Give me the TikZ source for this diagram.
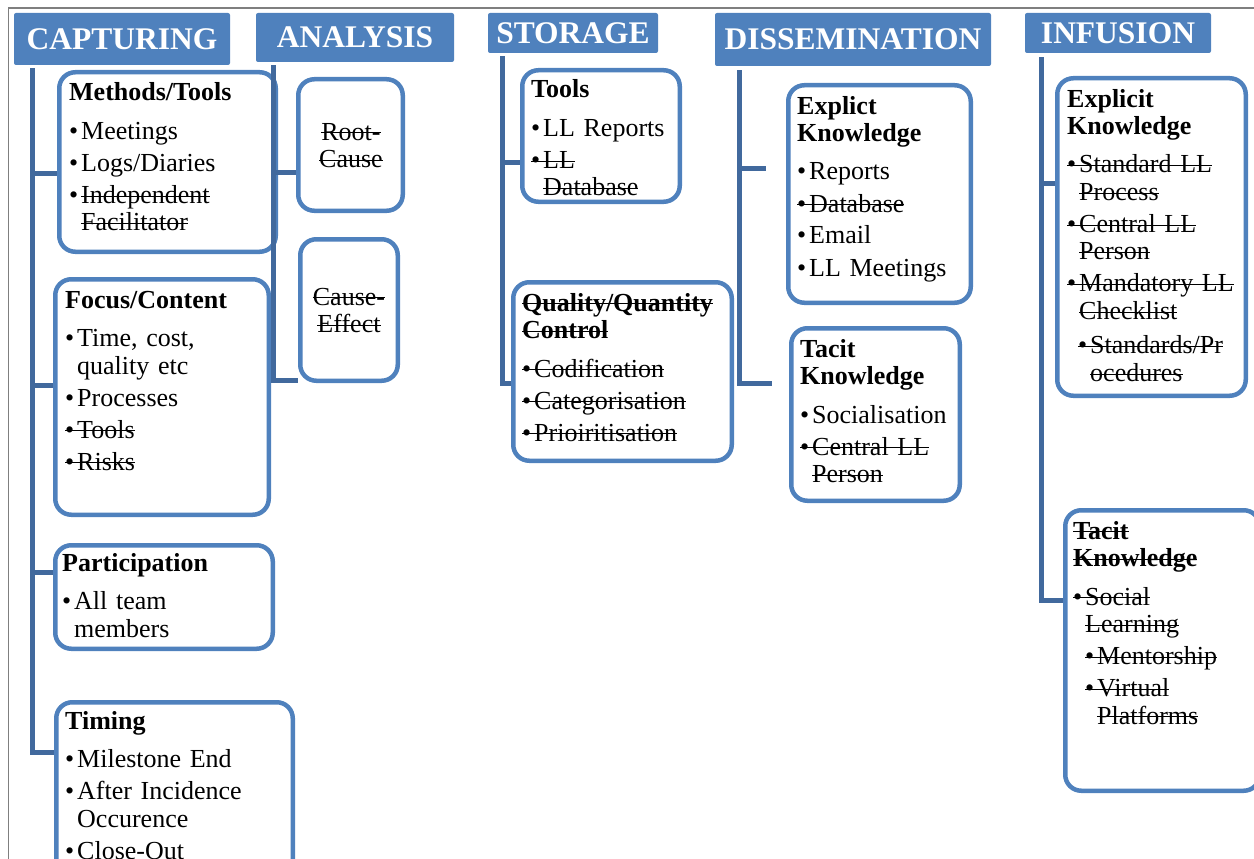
\documentclass[tikz,border=0pt]{standalone}
\usepackage{fontspec}
\setmainfont{Liberation Serif}
\definecolor{hdrblue}{HTML}{4F81BD}
\definecolor{bordblue}{HTML}{4F81BD}
\definecolor{connblue}{HTML}{41699D}
\definecolor{framegray}{HTML}{7F7F7F}
\newcommand\bul{\makebox[12pt][l]{•}}
\newcommand\ind{\hspace*{12pt}}
\newsavebox\stb
\newcommand\st[1]{\leavevmode\sbox\stb{#1}\rlap{\rule[6.6pt]{\wd\stb}{1.3pt}}\usebox\stb}
\newcommand\ls{\lineskiplimit=-100pt\relax}
\newcommand\bx[5]{\node[bx,minimum width={#4-#2-4.5},minimum height={#5-#3-4.5}] (#1) at ({(#2+#4)/2},{(#3+#5)/2}) {};}
\newcommand\hd[6]{\node[hdr,minimum width={#4-#2},minimum height={#5-#3}] (#1) at ({(#2+#4)/2},{(#3+#5)/2}) {#6};}
\begin{document}
\begin{tikzpicture}[x=1pt,y=-1pt,
  hdr/.style={fill=hdrblue, rounded corners=2pt, inner sep=0pt, text=white, font=\fontsize{31.5}{34}\selectfont\bfseries},
  bx/.style={draw=bordblue, line width=4.5pt, fill=white, rounded corners=16pt, inner sep=0pt},
  conn/.style={draw=connblue, line width=5pt},
  txt/.style={anchor=base west, inner sep=0pt, text width=300pt, align=left, font=\fontsize{26}{27.5}\selectfont},
  ctxt/.style={anchor=base, inner sep=0pt, text width=120pt, align=center, font=\fontsize{26}{27.5}\selectfont},
  frameline/.style={draw=framegray, line width=1.5pt}]
\useasboundingbox (0,0) rectangle (1254,859);
\clip (0,0) rectangle (1254,859);
\draw[frameline] (8.5,859) -- (8.5,8) -- (1254,8);

% headers
\hd{hcap}{14}{13}{230}{65}{CAPTURING}
\hd{hana}{256}{13}{454}{62}{ANALYSIS}
\hd{hsto}{488}{13}{658}{53}{STORAGE}
\hd{hdis}{715}{13}{991}{66}{DISSEMINATION}
\hd{hinf}{1025}{13}{1211}{53}{INFUSION}

% boxes
\bx{mt}{57}{70}{278}{254}
\bx{rc}{296}{77}{405}{213}
\bx{ce}{298}{237}{400}{383}
\bx{fc}{53}{277}{271}{517}
\bx{pa}{53}{543}{275}{651}
\bx{tim}{54}{700}{295}{885}
\bx{tl}{520}{68}{682}{204}
\bx{qq}{511}{280}{734}{463}
\bx{ex}{786}{83}{973}{305}
\bx{ta}{789}{326}{962}{503}
\bx{iex}{1055}{76}{1248}{398}
\bx{ita}{1063}{508}{1262}{793}

% texts
\node[txt] (mtT) at (69,101) {\ls{\bfseries Methods/Tools}\\[11pt]
\bul Meetings\\[4.5pt]
\bul Logs/Diaries\\[4.5pt]
\bul\st{Independent}\\
\ind\st{Facilitator}};

\node[ctxt] (rcT) at (351,140) {\ls\st{Root-}\\ \st{Cause}};
\node[ctxt] (ceT) at (349,305) {\ls\st{Cause-}\\ \st{Effect}};

\node[txt] (fcT) at (65,308) {\ls{\bfseries Focus/Content}\\[11pt]
\bul Time, cost,\\
\ind quality etc\\[4.5pt]
\bul Processes\\[4.5pt]
\st{\bul Tools}\\[4.5pt]
\st{\bul Risks}};

\node[txt] (paT) at (62,571) {\ls{\bfseries Participation}\\[11pt]
\bul All team\\
\ind members};

\node[txt] (timT) at (65,729) {\ls{\bfseries Timing}\\[11pt]
\bul Milestone End\\[4.5pt]
\bul After Incidence\\
\ind Occurence\\[4.5pt]
\bul Close-Out};

\node[txt] (tlT) at (531,98) {\ls{\bfseries Tools}\\[11pt]
\bul LL Reports\\[4.5pt]
\st{\bul LL}\\
\ind\st{Database}};

\node[txt] (qqT) at (522,311) {\ls\st{\bfseries Quality/Quantity}\\
\st{\bfseries Control}\\[11pt]
\st{\bul Codification}\\[4.5pt]
\st{\bul Categorisation}\\[4.5pt]
\st{\bul Prioiritisation}};

\node[txt] (exT) at (797,114) {\ls{\bfseries Explict}\\
{\bfseries Knowledge}\\[11pt]
\bul Reports\\[4.5pt]
\st{\bul Database}\\[4.5pt]
\bul Email\\[4.5pt]
\bul LL Meetings};

\node[txt] (taT) at (800,357) {\ls{\bfseries Tacit}\\
{\bfseries Knowledge}\\[11pt]
\bul Socialisation\\[4.5pt]
\st{\bul Central LL}\\
\ind\st{Person}};

\node[txt] (iexT) at (1067,107) {\ls{\bfseries Explicit}\\
{\bfseries Knowledge}\\[11pt]
\st{\bul Standard LL}\\
\ind\st{Process}\\[4.5pt]
\st{\bul Central LL}\\
\ind\st{Person}\\[4.5pt]
\st{\bul Mandatory LL}\\
\ind\st{Checklist}\\[7pt]
\hspace*{11pt}\st{\bul Standards/Pr}\\
\hspace*{23pt}\st{ocedures}};

\node[txt] (itaT) at (1073,539) {\ls\st{\bfseries Tacit}\\
\st{\bfseries Knowledge}\\[11pt]
\st{\bul Social}\\
\ind\st{Learning}\\[4.5pt]
\ind\st{\bul Mentorship}\\[4.5pt]
\ind\st{\bul Virtual}\\
\hspace*{24pt}\st{Platforms}};

% connectors
\coordinate (capT) at ([xshift=18.5pt,yshift=-3pt]hcap.south west);
\draw[conn] (capT) |- (tim.west |- 0,752);
\draw[conn] (capT |- 0,173) -- (mt.west |- 0,173);
\draw[conn] (capT |- 0,385) -- (fc.west |- 0,385);
\draw[conn] (capT |- 0,572) -- (pa.west |- 0,572);

\coordinate (anaT) at ([xshift=17.5pt,yshift=-3pt]hana.south west);
\draw[conn] (anaT) |- (ce.west |- 0,380);
\draw[conn] (anaT |- 0,172) -- (rc.west |- 0,172);

\coordinate (stoT) at ([xshift=15pt,yshift=-3pt]hsto.south west);
\draw[conn] (stoT) |- (qq.west |- 0,383);
\draw[conn] (stoT |- 0,162) -- (tl.west |- 0,162);

\coordinate (disT) at ([xshift=25pt,yshift=-4pt]hdis.south west);
\coordinate (disE1) at ([xshift=-20pt]ex.west);
\coordinate (disE2) at ([xshift=-17pt]ta.west);
\draw[conn] (disT) |- (disE2 |- 0,383);
\draw[conn] (disT |- 0,168) -- (disE1 |- 0,168);

\coordinate (infT) at ([xshift=16.5pt,yshift=-4pt]hinf.south west);
\draw[conn] (infT) |- (ita.west |- 0,600);
\draw[conn] (infT |- 0,183) -- (iex.west |- 0,183);
\end{tikzpicture}
\end{document}
